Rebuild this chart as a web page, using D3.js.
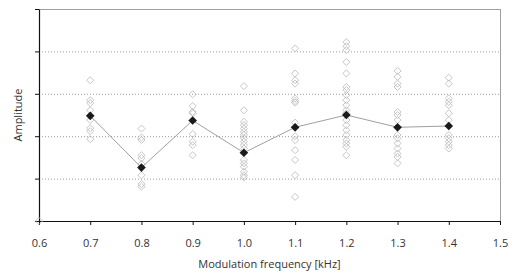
<!DOCTYPE html>
<html>
<head>
<meta charset="utf-8">
<script src="https://cdn.jsdelivr.net/npm/d3@7"></script>
<style>
  body { margin: 0; background: #fff; }
  svg { display: block; font-family: "Open Sans", sans-serif; }
</style>
</head>
<body>
<svg id="chart" width="516" height="277"></svg>
<script>
// x positions (kHz)
const freqs = [0.7, 0.8, 0.9, 1.0, 1.1, 1.2, 1.3, 1.4];

// mean amplitude per frequency (black diamonds)
const means = [2.48, 1.26, 2.37, 1.61, 2.21, 2.50, 2.21, 2.24];

// individual trials per frequency (hollow diamonds)
const trials = [
  [3.32, 2.85, 2.78, 2.61, 2.38, 2.19, 2.12, 1.93],
  [2.18, 1.97, 1.91, 1.55, 1.48, 1.34, 1.08, 0.87, 0.81],
  [2.99, 2.71, 2.57, 2.54, 2.05, 1.87, 1.79, 1.55],
  [3.18, 2.61, 2.34, 2.26, 2.18, 2.10, 2.03, 1.95, 1.87, 1.79, 1.71,
   1.44, 1.36, 1.28, 1.16, 1.08, 1.03],
  [4.07, 3.48, 3.32, 3.24, 2.89, 2.83, 2.79, 2.32, 2.00, 1.91, 1.67,
   1.44, 1.08, 0.57],
  [4.22, 4.12, 4.03, 3.75, 3.48, 3.16, 3.09, 2.97, 2.85, 2.73, 2.61,
   2.54, 2.38, 2.26, 2.14, 2.03, 1.91, 1.83, 1.75, 1.55],
  [3.54, 3.40, 3.24, 3.16, 2.57, 2.50, 2.38, 2.03, 1.95, 1.83, 1.71,
   1.59, 1.51, 1.36],
  [3.38, 3.24, 2.89, 2.81, 2.73, 2.54, 2.38, 2.03, 1.95, 1.87, 1.79, 1.71]
];

// stray point sitting on the origin
const originPoint = [{ f: 0.6, v: 0 }];

const xTicks = [0.6, 0.7, 0.8, 0.9, 1.0, 1.1, 1.2, 1.3, 1.4, 1.5];
const yTicks = [0, 1, 2, 3, 4, 5];

const margin = { top: 9, right: 16, bottom: 56, left: 39 };
const width = 516 - margin.left - margin.right;
const height = 277 - margin.top - margin.bottom;

const svg = d3.select('#chart');
const g = svg.append('g')
  .attr('transform', `translate(${margin.left},${margin.top})`);

const x = d3.scaleLinear().domain([0.6, 1.5]).range([0, width]);
const y = d3.scaleLinear().domain([0, 5]).range([height, 0]);

// dotted gridlines
g.selectAll('.grid')
  .data(yTicks.slice(1, -1))
  .join('line')
  .attr('x1', 0)
  .attr('x2', width)
  .attr('y1', (d) => y(d) + 0.5)
  .attr('y2', (d) => y(d) + 0.5)
  .attr('stroke', '#9a9a9a')
  .attr('stroke-width', 1)
  .attr('stroke-dasharray', '1,2');

// grey frame on top and right
g.append('line')
  .attr('x1', 0).attr('x2', width)
  .attr('y1', 0.5).attr('y2', 0.5)
  .attr('stroke', '#a0a0a0');
g.append('line')
  .attr('x1', width + 0.5).attr('x2', width + 0.5)
  .attr('y1', 0).attr('y2', height)
  .attr('stroke', '#a0a0a0');

// axes
const xAxis = g.append('g')
  .attr('transform', `translate(0,${height})`)
  .call(d3.axisBottom(x).tickValues(xTicks).tickSize(4).tickSizeOuter(0)
    .tickFormat(d3.format('.1f')));
const yAxis = g.append('g')
  .call(d3.axisLeft(y).tickValues(yTicks).tickSize(4).tickSizeOuter(0)
    .tickFormat(''));

[xAxis, yAxis].forEach((a) => {
  a.select('.domain').attr('stroke', '#111').attr('stroke-width', 1.2);
  a.selectAll('.tick line').attr('stroke', '#111');
});
xAxis.selectAll('.tick text')
  .attr('font-family', '"Open Sans", sans-serif')
  .attr('font-size', 11)
  .attr('fill', '#333')
  .attr('y', 25.5)
  .attr('dy', 0);

const diamond = (size) => d3.symbol().type(d3.symbolDiamond2).size(size)();

// individual trials
const trialPts = trials.flatMap((vals, i) => vals.map((v) => ({ f: freqs[i], v })))
  .concat(originPoint);
g.selectAll('.trial')
  .data(trialPts)
  .join('path')
  .attr('d', diamond(32))
  .attr('transform', (d) => `translate(${x(d.f)},${y(d.v)})`)
  .attr('fill', 'none')
  .attr('stroke', '#c0c0c0')
  .attr('stroke-width', 0.9);

// mean line
const meanPts = freqs.map((f, i) => ({ f, v: means[i] }));
g.append('path')
  .datum(meanPts)
  .attr('d', d3.line().x((d) => x(d.f)).y((d) => y(d.v)))
  .attr('fill', 'none')
  .attr('stroke', '#a0a0a0')
  .attr('stroke-width', 1);

g.selectAll('.mean')
  .data(meanPts)
  .join('path')
  .attr('d', diamond(48))
  .attr('transform', (d) => `translate(${x(d.f)},${y(d.v)})`)
  .attr('fill', '#1a1a1a');

// axis titles
svg.append('text')
  .attr('x', margin.left + width / 2)
  .attr('y', 268)
  .attr('text-anchor', 'middle')
  .attr('font-size', 11)
  .attr('fill', '#333')
  .text('Modulation frequency [kHz]');

svg.append('text')
  .attr('transform', `translate(22,${margin.top + height / 2}) rotate(-90)`)
  .attr('text-anchor', 'middle')
  .attr('font-size', 11)
  .attr('fill', '#333')
  .text('Amplitude');
</script>
</body>
</html>
